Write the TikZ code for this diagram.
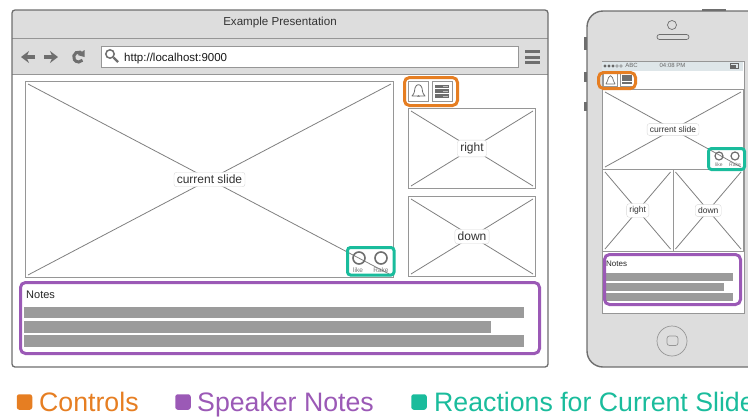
\documentclass[tikz,border=0pt]{standalone}
\usepackage{fontspec}
\usepackage{xcolor}
\usepackage{tikz}
\usetikzlibrary{arrows.meta}
\setmainfont{Liberation Sans}
\definecolor{framegray}{RGB}{110,110,110}
\definecolor{panelgray}{RGB}{221,221,221}
\definecolor{linegray}{RGB}{150,150,150}
\definecolor{bargray}{RGB}{155,155,155}
\definecolor{statusblue}{RGB}{222,230,233}
\definecolor{ctrlorange}{RGB}{230,126,34}
\definecolor{notespurple}{RGB}{155,89,182}
\definecolor{reactgreen}{RGB}{26,188,156}
\tikzset{
  wire/.style={draw=linegray,fill=white,line width=1pt},
  crossline/.style={draw=gray,line width=0.8pt},
  slidelabel/.style={draw=black!15,fill=white,rounded corners=2.5pt,inner sep=2.8pt,text=black!80},
  highlight/.style={rounded corners=5pt,line width=3pt},
  bar/.style={fill=bargray},
  legendbox/.style={rounded corners=2.5pt,minimum size=15.5pt,inner sep=0pt},
  legendtext/.style={font=\fontsize{26.7}{26.7}\selectfont,anchor=base west,inner sep=0pt}
}
% x0 y0 x1 y1 name label font
\newcommand{\wireslide}[7]{
  \node[wire,inner sep=0pt,minimum width=#3pt-#1pt,minimum height=#4pt-#2pt,anchor=north west] (#5) at (#1,#2) {};
  \draw[crossline] ([shift={(3,3)}]#5.north west) -- ([shift={(-3,-3)}]#5.south east);
  \draw[crossline] ([shift={(3,-3)}]#5.south west) -- ([shift={(-3,3)}]#5.north east);
  \node[slidelabel,font=#7] (#5label) at (#5.center) {#6};
}
\begin{document}
\begin{tikzpicture}[x=1pt,y=-1pt]
  \useasboundingbox (0,0) rectangle (748,416);
  % desktop window
  \fill[white,rounded corners=3pt] (12,10) rectangle (548,367);
  \fill[panelgray,rounded corners=3pt] (12,74) [sharp corners] -- (12,74) [rounded corners=3pt] -- (12,10) -- (548,10) [sharp corners] -- (548,74) -- cycle;
  \draw[linegray,line width=1pt] (12,38) -- (548,38);
  \draw[linegray,line width=1pt] (12,74) -- (548,74);
  \draw[draw=framegray,line width=1.3pt,rounded corners=3pt] (12,10) rectangle (548,367);
  \node[inner sep=0pt,font=\fontsize{11.6}{11.6}\selectfont,text=black!80] (title) at (280,22.5) {Example Presentation};
  \node[wire,anchor=north west,minimum width=417pt,minimum height=21pt,inner sep=0pt] (urlbar) at (101,46) {};
  \node[anchor=west,inner sep=0pt,font=\fontsize{11.5}{11.5}\selectfont,text=black!90] (urltext) at (124,58.5) {http://localhost:9000};
  \draw[framegray,line width=1.5pt] (110,54) circle (4.2);
  \draw[framegray,line width=2.2pt] (113.5,57.5) -- (118,62);
  % back, forward, reload
  \draw[-{Stealth[length=8pt,width=12pt]},framegray,line width=3.4pt] (35,57) -- (21,57);
  \draw[-{Stealth[length=8pt,width=12pt]},framegray,line width=3.4pt] (44,57) -- (58,57);
  \draw[framegray,line width=3pt] (83,54.5) arc[start angle=-30,end angle=-320,radius=5];
  \fill[framegray] (84.5,50) -- (84.5,57) -- (77.5,55) -- cycle;
  % menu
  \foreach \y in {51,57,62}
    \draw[framegray,line width=3pt] (525,\y) -- (540,\y);
  % slides
  \wireslide{25}{81}{393}{277}{current}{current slide}{\fontsize{12}{12}\selectfont}
  \wireslide{408}{108}{535}{188}{right}{right}{\fontsize{12}{12}\selectfont}
  \wireslide{408}{196}{535}{276}{down}{down}{\fontsize{12}{12}\selectfont}
  % control buttons
  \node[wire,anchor=north west,minimum size=20pt,inner sep=0pt] (bell) at (408,81) {};
  \node[wire,anchor=north west,minimum size=20pt,inner sep=0pt] (list) at (432,81) {};
  \draw[framegray,line width=0.8pt,line join=round] (412,96) .. controls (415,93) and (414.5,90) .. (415,88) .. controls (416,83.5) and (421,83.5) .. (422,88) .. controls (422.5,90) and (422,93) .. (425,96) -- cycle;
  \fill[framegray] (417,96.5) arc[start angle=180,end angle=360,radius=1.5] -- cycle;
  \foreach \y in {84.5,89.3,94}
    \fill[framegray] (435,\y) rectangle (449,\y+3.7);
  \foreach \y in {86.3,91.1,95.8}
    \draw[black!25,line width=0.6pt] (443,\y) -- (448,\y);
  \draw[ctrlorange,highlight] (404.5,77.5) rectangle (457.5,105.5);
  % reactions
  \draw[framegray,line width=1.6pt] (359,258) circle (6);
  \draw[framegray,line width=1.6pt] (381,258) circle (6);
  \node[inner sep=0pt,font=\fontsize{6.5}{6.5}\selectfont,text=black!55] (likelabel) at (358,270) {like};
  \node[inner sep=0pt,font=\fontsize{6.5}{6.5}\selectfont,text=black!55] (rakelabel) at (381,270) {Rake};
  \draw[reactgreen,highlight,rounded corners=3pt] (347.5,247.5) rectangle (394,275);
  % notes
  \node[anchor=west,inner sep=0pt,font=\fontsize{11}{11}\selectfont,text=black!85] (notes) at (26,295) {Notes};
  \fill[bar] (24,307) rectangle (524,318);
  \fill[bar] (24,321) rectangle (491,333);
  \fill[bar] (24,335) rectangle (524,347);
  \draw[notespurple,highlight] (20.5,282.5) rectangle (539.5,353.5);
  % phone
  \foreach \y/\h in {37/13,72/10,102/9}
    \fill[framegray] (584,\y) rectangle (588,\y+\h);
  \fill[framegray] (702,9) rectangle (726,12);
  \draw[draw=framegray,fill=panelgray,line width=1.4pt,rounded corners=16pt] (587,11) rectangle (770,367);
  \draw[framegray,line width=0.7pt] (672,25) circle (4.5);
  \draw[framegray,line width=0.7pt,rounded corners=2.5pt] (657,34.5) rectangle (689,39.5);
  \node[wire,anchor=north west,minimum width=142pt,minimum height=252pt,inner sep=0pt] (screen) at (601.5,61) {};
  \fill[statusblue] (602,61.5) rectangle (743,71);
  \node[inner sep=0pt,font=\fontsize{6}{6}\selectfont,text=black!60] (carrier) at (631.5,65.5) {ABC};
  \node[inner sep=0pt,font=\fontsize{6}{6}\selectfont,text=black!60] (clock) at (672.5,65.5) {04:08 PM};
  \foreach \x in {605,609,613}
    \fill[black!60] (\x,66) circle (1.6);
  \foreach \x in {617,621}
    \draw[black!60,line width=0.4pt] (\x,66) circle (1.4);
  \draw[black!60,line width=0.5pt] (730,63.5) rectangle (738.5,68.5);
  \fill[black!60] (731,64.5) rectangle (736,67.5);
  \wireslide{602}{89}{743}{169}{pcurrent}{current slide}{\fontsize{8.5}{8.5}\selectfont}
  \wireslide{602}{169}{672.5}{251}{pright}{right}{\fontsize{8.5}{8.5}\selectfont}
  \wireslide{672.5}{169}{743}{251}{pdown}{down}{\fontsize{8.5}{8.5}\selectfont}
  % phone controls
  \node[wire,anchor=north west,minimum width=14pt,minimum height=13pt,inner sep=0pt] (pbell) at (603,73) {};
  \node[wire,anchor=north west,minimum width=14pt,minimum height=13pt,inner sep=0pt] (plist) at (620,73) {};
  \draw[framegray,line width=0.7pt,line join=round] (606,84) .. controls (608,82) and (607.5,79) .. (608.5,77.5) .. controls (609,75) and (612,75) .. (612.5,77.5) .. controls (613.5,79) and (613,82) .. (615,84) -- cycle;
  \foreach \y in {75,78.3,81.6}
    \fill[framegray] (622,\y) rectangle (632,\y+2.7);
  \draw[ctrlorange,highlight] (598.5,72.5) rectangle (635.5,88.5);
  % phone reactions
  \draw[framegray,line width=1.2pt] (719,156) circle (4);
  \draw[framegray,line width=1.2pt] (735,156) circle (4);
  \node[inner sep=0pt,font=\fontsize{5}{5}\selectfont,text=black!55] (plikelabel) at (719,165) {like};
  \node[inner sep=0pt,font=\fontsize{5}{5}\selectfont,text=black!55] (prakelabel) at (735,165) {Rake};
  \draw[reactgreen,highlight,rounded corners=3pt] (708.5,148.5) rectangle (744.5,169.5);
  % phone notes
  \node[anchor=west,inner sep=0pt,font=\fontsize{8}{8}\selectfont,text=black!85] (pnotes) at (606,264) {Notes};
  \fill[bar] (606,273) rectangle (733,281);
  \fill[bar] (606,283) rectangle (724,290.5);
  \fill[bar] (606,293) rectangle (733,300.5);
  \draw[notespurple,highlight] (604.5,254.5) rectangle (740.5,304.5);
  % home button
  \draw[linegray,line width=0.7pt] (672,341) circle (15);
  \draw[linegray,line width=0.7pt,rounded corners=2.5pt] (667,336) rectangle (678,345.5);
  % legend
  \node[legendbox,fill=ctrlorange] (keycontrols) at (24.5,402) {};
  \node[legendtext,text=ctrlorange] (textcontrols) at (39,411) {Controls};
  \node[legendbox,fill=notespurple] (keynotes) at (183,402) {};
  \node[legendtext,text=notespurple] (textnotes) at (197,411) {Speaker Notes};
  \node[legendbox,fill=reactgreen] (keyreact) at (419,402) {};
  \node[legendtext,text=reactgreen] (textreact) at (434,411) {Reactions for Current Slide};
\end{tikzpicture}
\end{document}
